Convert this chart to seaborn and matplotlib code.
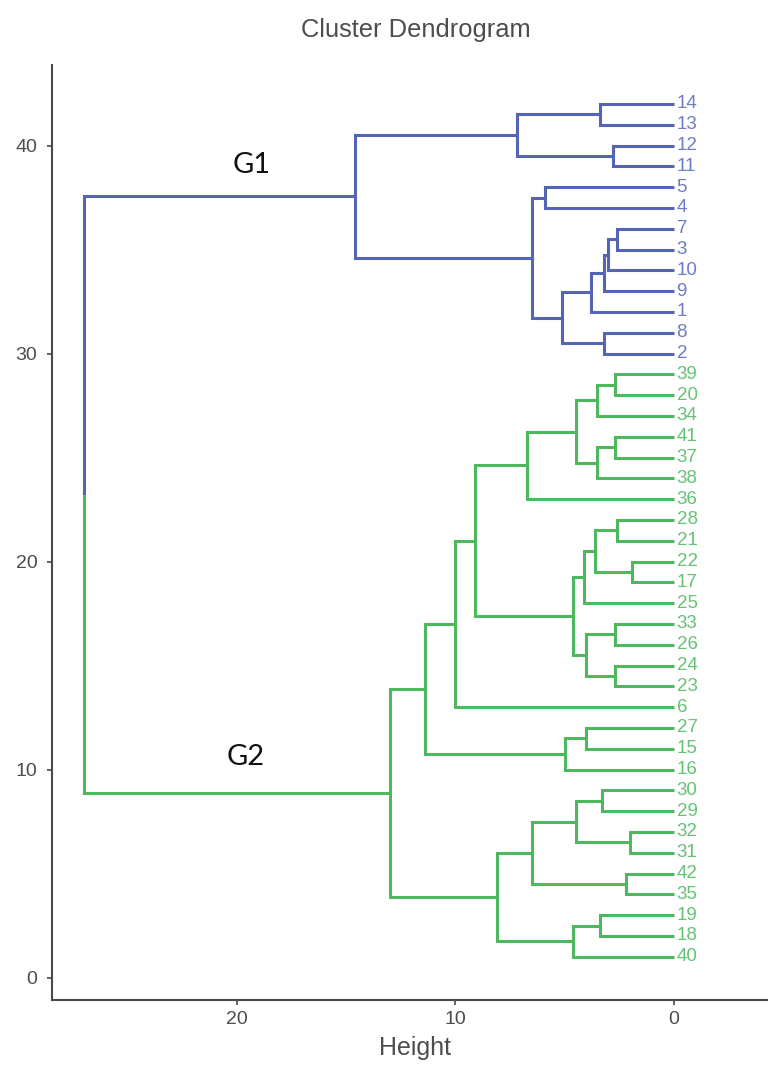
import matplotlib
matplotlib.use("Agg")
import matplotlib.pyplot as plt
import numpy as np
import pandas as pd
import seaborn as sns

# Leaf labels, top to bottom as they appear on the dendrogram
leaf_order = [14, 13, 12, 11, 5, 4, 7, 3, 10, 9, 1, 8, 2,
              39, 20, 34, 41, 37, 38, 36, 28, 21, 22, 17, 25, 33, 26, 24, 23,
              6, 27, 15, 16, 30, 29, 32, 31, 42, 35, 19, 18, 40]

# Cluster cut (k = 2): sizes follow leaf_order from the top
cluster_names = ["G1", "G2"]
cluster_sizes = [13, 29]

# Merge table in hclust style: negative = observation, positive = earlier merge step
merge_left = [-22, -32, -42, -7, -28, -39, -41, -33, -24, -12,
              4, 11, -8, -30, -14, -19, 6, 7, 5, 12,
              8, -27, 19, 17, 14, 23, 16, 22, 20, -5,
              30, 25, 24, 15, 32, 33, 36, 37, 38, 34, 40]
merge_right = [-17, -31, -35, -3, -21, -20, -37, -26, -23, -11,
               -10, -9, -2, -29, -13, -18, -34, -38, 1, -1,
               9, -15, -25, 18, 2, 21, -40, -16, 13, -4,
               29, 3, -36, 10, 27, 26, -6, 28, 35, 31, 39]
merge_height = [1.9, 2.0, 2.2, 2.6, 2.6, 2.7, 2.7, 2.7, 2.7, 2.8,
                3.0, 3.2, 3.2, 3.3, 3.4, 3.4, 3.5, 3.5, 3.6, 3.8,
                4.0, 4.0, 4.1, 4.5, 4.5, 4.6, 4.6, 5.0, 5.1, 5.9,
                6.5, 6.5, 6.7, 7.2, 8.1, 9.1, 10.0, 11.4, 13.0, 14.6, 27.0]

line_colors = {"G1": "#5465B6", "G2": "#4DB85E"}
label_colors = {"G1": "#6D7CC4", "G2": "#66C275"}

# ---- layout of the tree -------------------------------------------------
n_leaves = len(leaf_order)
leaf_group = {}
start = 0
for name, size in zip(cluster_names, cluster_sizes):
    for lab in leaf_order[start:start + size]:
        leaf_group[lab] = name
    start += size
leaf_pos = {lab: n_leaves - i for i, lab in enumerate(leaf_order)}

node_pos, node_h, node_grp = {}, {}, {}


def lookup(k):
    if k < 0:
        return leaf_pos[-k], 0.0, leaf_group[-k]
    return node_pos[k], node_h[k], node_grp[k]


rows = []
seg = 0
for step, (a, b, h) in enumerate(zip(merge_left, merge_right, merge_height), start=1):
    ya, ha, ga = lookup(a)
    yb, hb, gb = lookup(b)
    y = (ya + yb) / 2
    if ga == gb:
        pts = [(ha, ya), (h, ya), (h, yb), (hb, yb)]
        for i, (x, yy) in enumerate(pts):
            rows.append(dict(seg=seg, order=i, height=x, pos=yy, group=ga))
        seg += 1
        node_grp[step] = ga
    else:
        # root link: upper half takes the colour of the upper cluster
        for pts, g in (([(ha, ya), (h, ya), (h, y)], ga),
                       ([(h, y), (h, yb), (hb, yb)], gb)):
            for i, (x, yy) in enumerate(pts):
                rows.append(dict(seg=seg, order=i, height=x, pos=yy, group=g))
            seg += 1
        node_grp[step] = "root"
    node_pos[step] = y
    node_h[step] = h

segments = pd.DataFrame(rows)

# ---- drawing --------------------------------------------------------------
sns.set_theme(style="ticks")
plt.rcParams["font.family"] = ["Liberation Sans", "DejaVu Sans"]

fig = plt.figure(figsize=(7.68, 10.71), dpi=100)
ax = fig.add_axes([0.0677, 0.0663, 0.9453, 0.8730])

sns.lineplot(data=segments, x="height", y="pos", units="seg", estimator=None,
             sort=False, hue="group", palette=line_colors, linewidth=2.2,
             legend=False, ax=ax)
for line in ax.lines:
    line.set_solid_joinstyle("miter")
    line.set_solid_capstyle("butt")

for lab in leaf_order:
    g = leaf_group[lab]
    ax.text(-0.12, leaf_pos[lab], str(lab), color=label_colors[g],
            fontsize=13.5, ha="left", va="center")

ax.text(19.3, 38.68, "G1", family=["Lato", "DejaVu Sans"], fontsize=21,
        color="#111111", ha="center", va="baseline")
ax.text(19.6, 10.22, "G2", family=["Lato", "DejaVu Sans"], fontsize=21,
        color="#111111", ha="center", va="baseline")

ax.set_xlim(28.45, -4.76)
ax.set_ylim(-1.08, 43.87)
ax.set_xticks([20, 10, 0])
ax.set_yticks([0, 10, 20, 30, 40])
ax.set_ylabel("")
ax.set_xlabel("Height", fontsize=18, color="#4d4d4d", labelpad=6)

sns.despine(ax=ax)
for side in ("left", "bottom"):
    ax.spines[side].set_color("#4a4a4a")
    ax.spines[side].set_linewidth(1.5)
ax.tick_params(axis="both", direction="out", length=3.6, width=1.2,
               color="#4a4a4a", labelcolor="#4d4d4d", labelsize=14)
ax.tick_params(axis="x", pad=4)
ax.tick_params(axis="y", pad=7)
ax.grid(False)

fig.text(416 / 768, 1 - 36.5 / 1071, "Cluster Dendrogram", fontsize=18.4,
         color="#4d4d4d", ha="center", va="baseline")

fig.savefig("out.png", dpi=100)
